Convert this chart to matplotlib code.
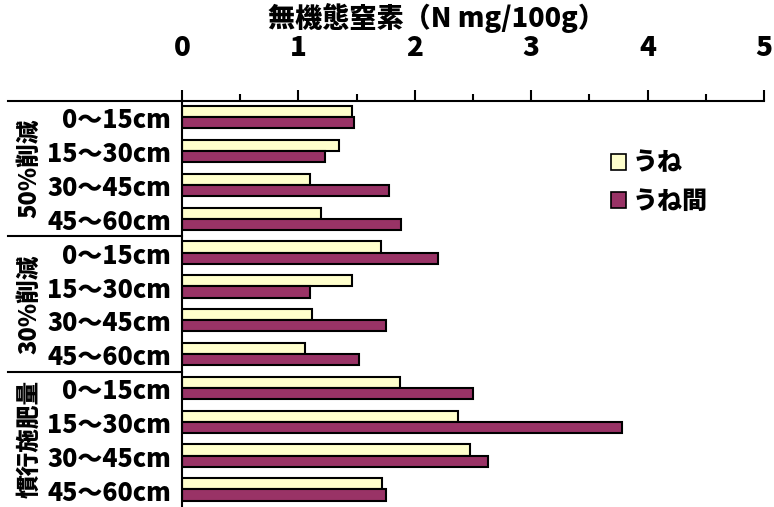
import matplotlib.pyplot as plt
from matplotlib.patches import Patch

plt.rcParams['font.family'] = ['Noto Sans CJK JP', 'DejaVu Sans']
plt.rcParams['font.weight'] = 'heavy'

# 処理区と深さ
groups = ['50%削減', '30%削減', '慣行施肥量']
depths = ['0～15cm', '15～30cm', '30～45cm', '45～60cm']

# 無機態窒素 (N mg/100g)
une = [1.46, 1.35, 1.10, 1.19,
       1.71, 1.46, 1.12, 1.06,
       1.87, 2.37, 2.47, 1.72]
unema = [1.48, 1.23, 1.78, 1.88,
         2.20, 1.10, 1.75, 1.52,
         2.50, 3.78, 2.63, 1.75]

labels = depths * len(groups)
pos = list(range(len(labels)))

fig = plt.figure(figsize=(7.74, 5.07), dpi=100)
ax = fig.add_axes([182 / 774, 0, 582 / 774, 406 / 507])

h = 0.33
ax.barh([p - 0.185 for p in pos], une, height=h, color='#FFFFCC',
        edgecolor='black', linewidth=1.5, label='うね')
ax.barh([p + 0.145 for p in pos], unema, height=h, color='#993366',
        edgecolor='black', linewidth=1.5, label='うね間')

ax.set_xlim(0, 5)
ax.set_ylim(len(labels) - 0.5, -0.5)
ax.xaxis.tick_top()
ax.set_xticks(range(6))
ax.set_xticks([0.5, 1.5, 2.5, 3.5, 4.5], minor=True)
ax.tick_params(axis='x', which='major', length=8, width=1.5, pad=20,
               labelsize=20)
ax.tick_params(axis='x', which='minor', length=5, width=1.5)
ax.set_yticks(pos)
ax.set_yticklabels(labels, fontsize=18)
ax.tick_params(axis='y', length=0, pad=8)

for s in ['right', 'bottom']:
    ax.spines[s].set_visible(False)
for s in ['top', 'left']:
    ax.spines[s].set_linewidth(1.5)

# 区分の境界線
tr = ax.get_yaxis_transform()
for yb in [-0.5, 3.5, 7.5]:
    ax.plot([-0.299, 0], [yb, yb], transform=tr, color='black', lw=1.5,
            clip_on=False)

# 処理区名（縦書き）
for i, g in enumerate(groups):
    ax.text(-0.263, 4 * i + 1.5, g, transform=tr, rotation=90,
            ha='center', va='center', fontsize=17)

fig.text(437 / 774, 1 - 18 / 507, '無機態窒素（N mg/100g）',
         ha='center', va='center', fontsize=19.5)

ax.legend(handles=[Patch(facecolor='#FFFFCC', edgecolor='black', lw=1.2, label='うね'),
                   Patch(facecolor='#993366', edgecolor='black', lw=1.2, label='うね間')],
          loc='upper left', bbox_to_anchor=(588 / 774, 1 - 127 / 507),
          bbox_transform=fig.transFigure, frameon=False, fontsize=18,
          handlelength=0.6, handleheight=0.6, handletextpad=0.3,
          labelspacing=0.5)

fig.savefig('out.png', dpi=100)
